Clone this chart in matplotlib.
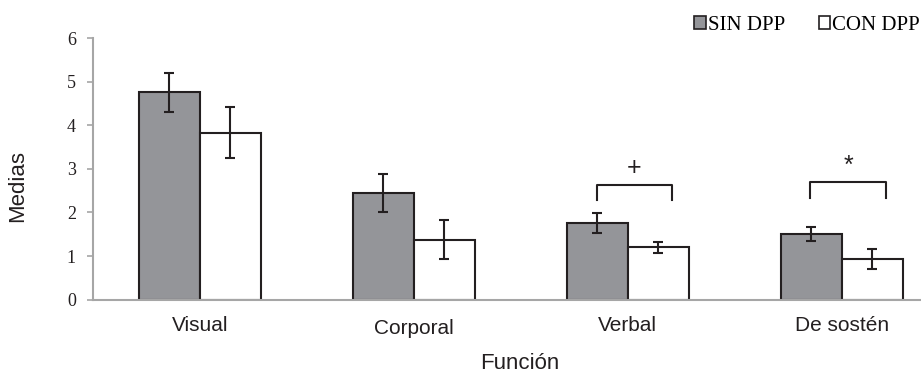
import numpy as np
import matplotlib.pyplot as plt
from matplotlib.patches import Patch

# --- DATOS ---
categorias = ['Visual', 'Corporal', 'Verbal', 'De sostén']
sin_dpp = [4.76, 2.45, 1.76, 1.51]
sin_err = [0.45, 0.44, 0.23, 0.16]
con_dpp = [3.83, 1.37, 1.20, 0.93]
con_err = [0.58, 0.45, 0.12, 0.22]

# llaves de significación: (categoria, altura, símbolo)
sig_idx = [2, 3]
sig_alto = [2.64, 2.69]
sig_pata = [2.28, 2.32]
sig_txt = ['+', '*']

gris = '#949599'
tinta = '#231f20'

fig = plt.figure(figsize=(9.21, 3.74), dpi=100)
ax = fig.add_axes([0.101, 0.199, 0.929, 0.699])

x = np.arange(len(categorias))
w = 0.285
ax.bar(x - w / 2, sin_dpp, w, color=gris, edgecolor=tinta, linewidth=1.5,
       yerr=sin_err, capsize=3.6, error_kw=dict(elinewidth=1.5, capthick=1.5, ecolor=tinta))
ax.bar(x + w / 2, con_dpp, w, color='white', edgecolor=tinta, linewidth=1.5,
       yerr=con_err, capsize=3.6, error_kw=dict(elinewidth=1.5, capthick=1.5, ecolor=tinta))

# llaves
for i, top, leg, s in zip(sig_idx, sig_alto, sig_pata, sig_txt):
    x0 = i - 0.146
    x1 = i + 0.206
    ax.plot([x0, x0, x1, x1], [leg, top, top, leg], color=tinta, lw=1.5,
            solid_joinstyle='round')
    ax.text((x0 + x1) / 2, top + 0.1, s, ha='center', va='bottom',
            fontsize=18, color=tinta, family='Liberation Sans')

ax.set_xlim(-0.5, 3.5)
ax.set_ylim(0, 6)
ax.set_yticks(range(0, 7))
ax.set_xticks(x)
ax.set_xticklabels(categorias, fontsize=15, family='Liberation Sans', color=tinta)
ax.get_xticklabels()[1].set_y(-0.012)
for lab in ax.get_yticklabels():
    lab.set_family('Liberation Serif')
    lab.set_fontsize(13)
    lab.set_color(tinta)
ax.tick_params(axis='x', length=0, pad=12)
ax.tick_params(axis='y', length=4.3, width=1.2, color='#a6a6a6', pad=8)

for sp in ['top', 'right']:
    ax.spines[sp].set_visible(False)
for sp in ['left', 'bottom']:
    ax.spines[sp].set_color('#a6a6a6')
    ax.spines[sp].set_linewidth(1.5)

ax.set_ylabel('Medias', fontsize=16, family='Liberation Sans', color=tinta)
ax.yaxis.set_label_coords(-0.076, 0.434)
ax.set_xlabel('Función', fontsize=16, family='Liberation Sans', color=tinta)
ax.xaxis.set_label_coords(0.499, -0.204)

handles = [Patch(facecolor=gris, edgecolor=tinta, linewidth=1.2, label='SIN DPP'),
           Patch(facecolor='white', edgecolor=tinta, linewidth=1.2, label='CON DPP')]
fig.legend(handles=handles, loc='center left', bbox_to_anchor=(0.745, 0.932),
           ncol=2, frameon=False, handlelength=0.55, handleheight=0.55,
           handletextpad=0.1, columnspacing=1.6, borderaxespad=0,
           prop={'family': 'Liberation Serif', 'size': 15})

fig.savefig('out.png', dpi=100)
